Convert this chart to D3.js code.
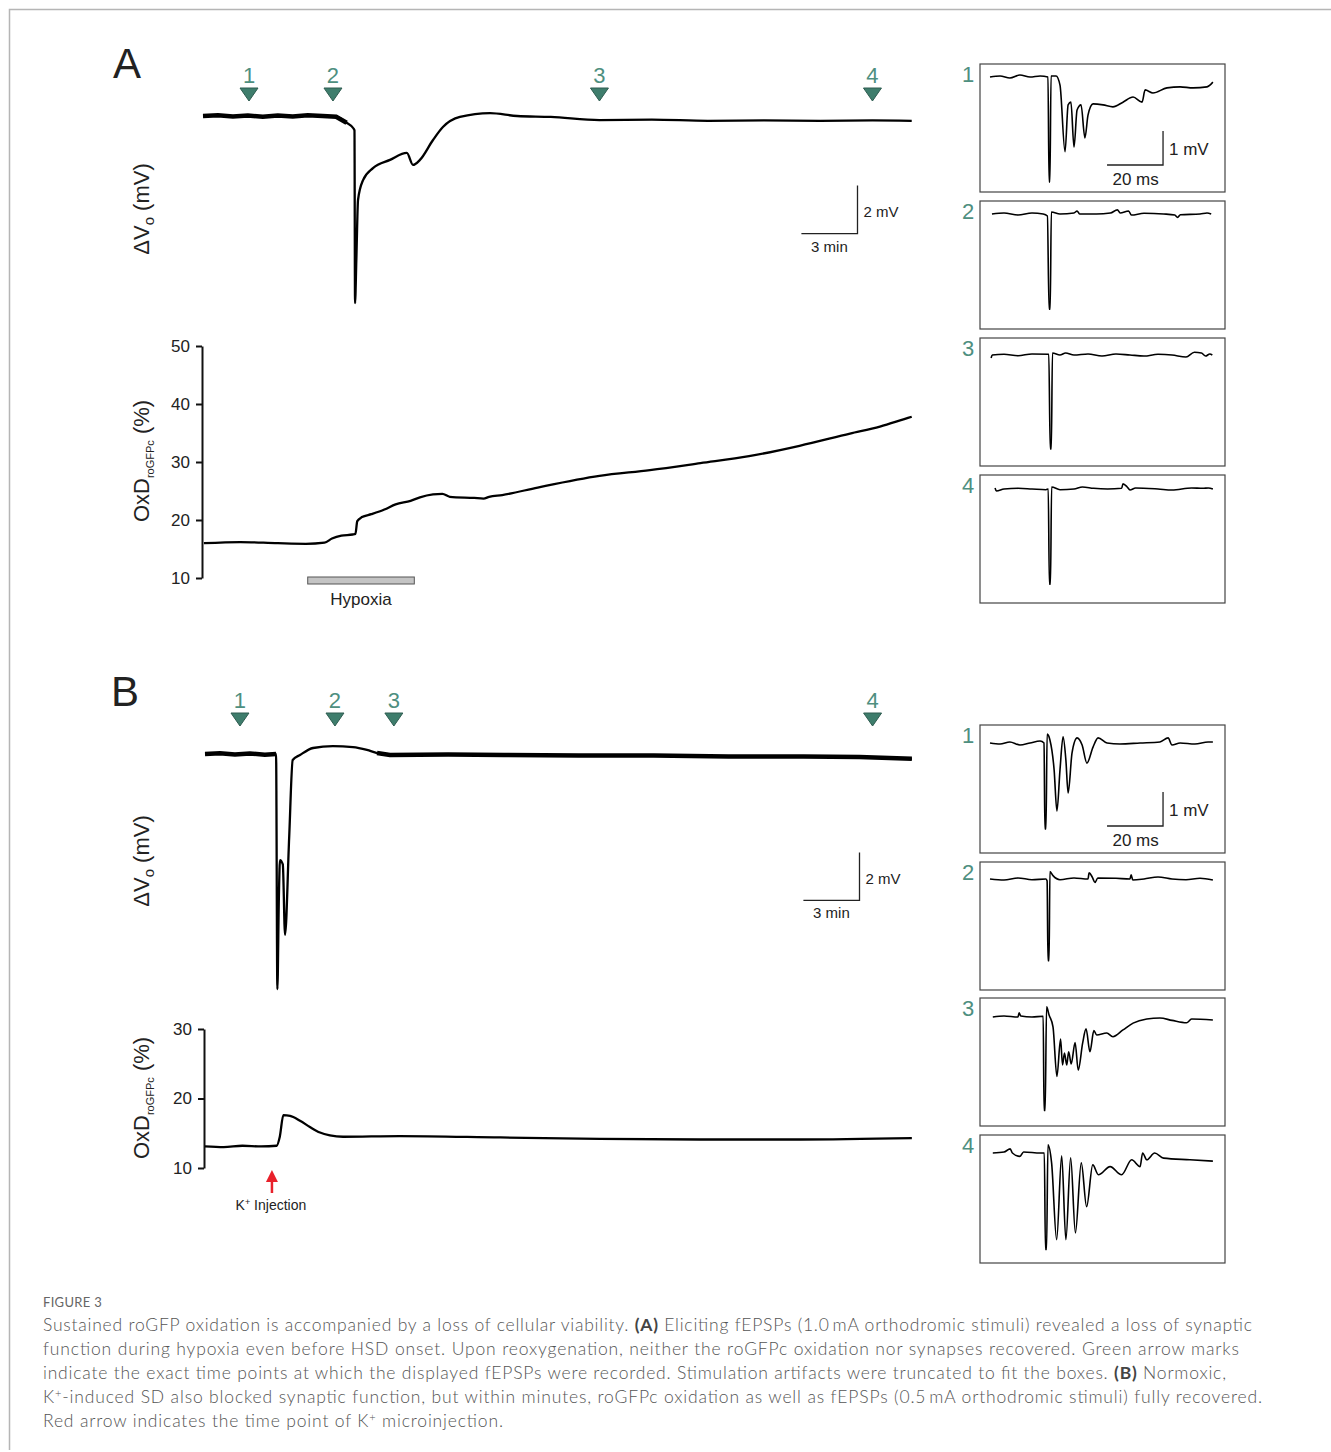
<!DOCTYPE html>
<html lang="en">
<head>
<meta charset="UTF-8">
<title>Figure 3</title>
<script src="https://cdn.jsdelivr.net/npm/d3@7"></script>
<style>
    body { margin: 0; background: #fff; }
    svg text { font-family: "Liberation Sans", Arial, sans-serif; fill: #222; }
    .trace { fill: none; stroke: #000; stroke-width: 2.3; stroke-linejoin: round; }
    .noise { fill: none; stroke: #000; stroke-width: 4.5; }
    .ins-trace { fill: none; stroke: #000; stroke-width: 1.6; stroke-linejoin: round; }
    .box { fill: none; stroke: #444; stroke-width: 1.2; }
    .marker { fill: #3e7d6c; stroke: #2e5c50; stroke-width: 1; }
    .mnum { fill: #4e8f80; font-size: 22px; text-anchor: middle; }
    .axis path, .axis line { stroke: #111; stroke-width: 2; }
    .axis text { font-size: 17px; fill: #222; }
    .bar { stroke: #222; stroke-width: 1.3; fill: none; }
    .cap { font-family: Lato, "Open Sans", sans-serif; font-size: 17.5px; font-weight: 300; fill: #555; }
</style>
</head>
<body>
<svg id="fig" width="1331" height="1452"></svg>
<script>
    // ---- data: main traces, time in min, extracellular potential in mV ----
    const traceA = [[0, 0], [0.8, 0.03], [1.6, -0.02], [2.4, 0.02], [3.2, -0.03], [4, 0.02], [4.8, -0.02],
        [5.6, 0.03], [6.4, 0], [7.12, -0.03], [7.68, -0.28], [8.04, -0.51], [8.1, -0.6], [8.13, -7.8],
        [8.2, -6.0], [8.29, -3.5], [8.56, -2.67], [9.09, -2.17], [10.0, -1.83], [10.9, -1.54], [11.23, -2.04],
        [11.6, -1.83], [12.3, -1.0], [12.83, -0.46], [13.74, -0.04], [15.35, 0.12], [16.8, 0], [18.6, -0.04],
        [21.2, -0.17], [24, -0.15], [27, -0.2], [30, -0.18], [33, -0.2], [35.8, -0.18], [37.9, -0.2]];
    const traceB = [[0, 0], [0.8, 0.03], [1.6, -0.02], [2.4, 0.02], [3.2, -0.03], [3.8, 0], [3.87, -9.8],
        [3.95, -6], [4.01, -4.42], [4.16, -4.6], [4.28, -7.54], [4.5, -3.5], [4.69, -0.25], [5.08, -0.04],
        [5.78, 0.25], [6.84, 0.33], [7.91, 0.29], [8.66, 0.17], [9.2, 0.04], [9.89, -0.04], [13, -0.02],
        [16, -0.04], [20, -0.06], [24, -0.06], [28, -0.1], [32, -0.1], [35, -0.12], [37.8, -0.2]];

    // roGFPc oxidation (%), time in min
    const oxdA = [[0.05, 16.0], [2, 16.2], [4, 16.0], [5.5, 15.9], [6.5, 16.1], [6.9, 16.8], [7.4, 17.3],
        [8.0, 17.5], [8.15, 17.6], [8.25, 19.8], [8.5, 20.5], [9.0, 21.0], [9.7, 21.8], [10.3, 22.7],
        [11.1, 23.3], [11.6, 23.9], [12.3, 24.4], [12.8, 24.5], [13.2, 24.0], [14.5, 23.8], [15.0, 23.7],
        [15.3, 24.0], [16.0, 24.3], [17.9, 25.6], [21.2, 27.6], [23.9, 28.6], [26.6, 29.8], [29.2, 31.0],
        [31.9, 32.8], [34.6, 34.9], [36.2, 36.1], [37.5, 37.4], [37.9, 37.8]];
    const oxdB = [[0, 13.1], [1, 13.0], [2, 13.2], [3, 13.1], [3.83, 13.2], [4.0, 14.5], [4.19, 17.6],
        [4.55, 17.5], [5.08, 16.8], [5.61, 15.9], [6.15, 15.1], [6.68, 14.7], [7.38, 14.5], [10.4, 14.6],
        [15.8, 14.4], [21.1, 14.2], [26.5, 14.1], [31.8, 14.1], [37.8, 14.3]];

    const oxdTicksA = [10, 20, 30, 40, 50];
    const oxdTicksB = [10, 20, 30];

    // time points (min) of the displayed fEPSPs
    const markersA = [2.46, 6.95, 21.2, 35.8];
    const markersB = [1.87, 6.95, 10.1, 35.7];
    const hypoxia = [5.6, 11.3];
    const kInjection = 3.58;

    // ---- data: fEPSP insets, time in ms, mV ----
    const insetA1 = [[0, 0], [3.6, 0.03], [7.1, -0.03], [10.7, 0.06], [14.3, 0], [17.9, 0.03], [20.7, 0],
        [21.1, -3.09], [21.4, -3.09], [21.8, 0.03], [23.6, 0.03], [25, -0.24], [26.8, -2.2], [27.9, -0.82],
        [28.9, -0.74], [30, -2.06], [31.1, -0.97], [32.5, -0.82], [33.9, -1.79], [35, -1.12], [36.8, -0.79],
        [40.4, -0.82], [43.9, -0.88], [47.5, -0.74], [51.1, -0.59], [54.3, -0.74], [55.4, -0.38],
        [58.2, -0.47], [63.2, -0.32], [67.9, -0.29], [72.5, -0.32], [77.5, -0.29], [79.6, -0.15]];
    const insetA2 = [[0.7, 0], [5, 0.03], [10, -0.03], [15, 0.03], [19, 0], [20.5, -0.06], [21.1, -2.8],
        [21.5, -2.8], [21.9, 0.06], [25, 0], [30, 0.03], [31.1, 0.09], [32, 0], [38, 0], [43, 0.03],
        [45.5, 0.12], [46.5, 0.03], [49.5, 0.09], [50.5, -0.03], [55, 0.02], [62, 0], [66, -0.03],
        [67, -0.1], [68, -0.02], [75, 0], [77.5, 0.03], [79, 0]];
    const insetA3 = [[0.4, -0.09], [0.8, 0], [5, 0.02], [10, -0.02], [15, 0.03], [21, 0.02], [21.5, -2.76],
        [21.9, -2.76], [22.3, 0.06], [25, 0], [27, 0.06], [30, 0], [35, 0.03], [40, -0.03], [45, 0.03],
        [50, 0], [55, -0.03], [60, 0.02], [65, 0], [70, -0.06], [73, 0.08], [75.5, 0.06], [77, -0.03],
        [78.5, 0.03], [79.4, 0]];
    const insetA4 = [[1.8, 0.03], [2.3, -0.06], [5, 0], [10, 0.02], [15, 0], [20, -0.02], [20.8, 0],
        [21.2, -2.8], [21.6, -2.8], [22, 0.06], [25, -0.02], [30, 0], [33, 0.06], [37, 0.02], [42, 0],
        [47, 0.02], [47.5, 0.15], [49, 0.06], [50, -0.03], [52, 0.03], [60, 0], [65, -0.03], [72, 0.03],
        [76, 0.02], [78, 0.03], [79.6, 0]];
    const insetB1 = [[0, 0], [3.6, -0.03], [7.1, 0.03], [10.7, -0.06], [14.3, 0], [17.9, 0.06], [19.3, 0],
        [19.6, -2.53], [20, -2.53], [20.4, 0.26], [21.4, 0.09], [22.9, -0.79], [23.9, -2.0], [25, -0.79],
        [26.1, 0.18], [27.1, -0.5], [27.9, -1.47], [29.3, -0.29], [31.1, 0.15], [32.9, -0.06], [34.6, -0.59],
        [36.8, -0.12], [38.6, 0.15], [41.8, 0], [46.4, -0.03], [53.6, 0], [60.7, 0.03], [63.6, 0.15],
        [65, -0.06], [67.9, 0], [73.2, -0.03], [77.9, 0.03], [79.6, 0.03]];
    const insetB2 = [[0, 0], [5, -0.03], [10, 0.03], [15, -0.02], [20, 0], [20.4, -0.06], [20.7, -2.4],
        [21.1, -2.4], [21.4, 0.22], [22.5, 0.1], [25, -0.02], [30, 0.03], [35, 0], [35.4, 0.18], [36.5, 0.06],
        [37.5, -0.1], [38.5, 0.03], [45, 0.02], [50, 0], [50.4, 0.12], [51, -0.03], [55, 0], [60, 0.06],
        [65, 0], [70, -0.02], [75, 0.02], [79.6, -0.03]];
    const insetB3 = [[1, 0], [5, 0.03], [10, 0], [10.4, 0.12], [11, 0.03], [15, 0], [19, 0.02],
        [19.3, -2.75], [19.7, -2.75], [20.2, 0.3], [21.1, 0.06], [22.5, -0.29], [23.9, -1.75], [25.2, -0.65],
        [25.9, -1.41], [26.6, -1.06], [27.4, -1.41], [28.1, -1.02], [29, -1.38], [30.4, -0.75], [31.5, -1.56],
        [33.1, -0.76], [34.3, -0.35], [35.7, -1.02], [37.1, -0.4], [38.1, -0.53], [41.7, -0.47],
        [43.9, -0.58], [47.5, -0.38], [51.1, -0.18], [56, -0.06], [60.7, -0.03], [65, -0.1], [70.2, -0.17],
        [72, -0.06], [79.6, -0.09]];
    const insetB4 = [[1, 0], [5, 0.03], [7.2, 0.12], [8, 0.0], [10.7, -0.1], [12, 0.03], [18, 0], [19.4, 0],
        [19.8, -2.84], [20.2, -2.84], [20.7, 0.24], [22, -0.29], [23.8, -2.55], [25.6, -0.08], [27.1, -2.55],
        [28.8, -0.14], [30.5, -2.35], [32.6, -0.29], [34.5, -1.58], [36.7, -0.35], [38.7, -0.64], [42.9, -0.4],
        [47, -0.64], [50.6, -0.2], [53.6, -0.4], [54.5, 0.0], [56, -0.2], [58.8, 0.0], [62, -0.15],
        [71.4, -0.2], [79.6, -0.24]];

    const captionLines = [
        [["Sustained roGFP oxidation is accompanied by a loss of cellular viability. ", ""], ["(A)", "b"],
            [" Eliciting fEPSPs (1.0\u2009mA orthodromic stimuli) revealed a loss of synaptic", ""]],
        [["function during hypoxia even before HSD onset. Upon reoxygenation, neither the roGFPc oxidation nor synapses recovered. Green arrow marks", ""]],
        [["indicate the exact time points at which the displayed fEPSPs were recorded. Stimulation artifacts were truncated to fit the boxes. ", ""],
            ["(B)", "b"], [" Normoxic,", ""]],
        [["K", ""], ["+", "sup"], ["-induced SD also blocked synaptic function, but within minutes, roGFPc oxidation as well as fEPSPs (0.5\u2009mA orthodromic stimuli) fully recovered.", ""]],
        [["Red arrow indicates the time point of K", ""], ["+", "sup"], [" microinjection.", ""]]
    ];
    const captionEnds = [1252, 1239, 1226, 1262, 503];

    // ---- drawing ----
    const svg = d3.select("#fig");
    const minPx = 18.7;   // px per minute
    const mvPx = 24;      // px per mV (main traces)
    const msPx = 2.8;     // px per ms (insets)
    const insMvPx = 34;   // px per mV (insets)

    svg.append("path")
        .attr("d", "M9.5,1450V9.5H1331")
        .attr("fill", "none")
        .attr("stroke", "#b5b5b5")
        .attr("stroke-width", 1.5);

    function yLabel(cx, cy, main, sub, tail) {
        let t = svg.append("text")
            .attr("transform", `translate(${cx},${cy}) rotate(-90)`)
            .attr("text-anchor", "middle")
            .style("font-size", "22px");
        t.append("tspan").text(main);
        t.append("tspan").attr("dy", 5).style("font-size", sub.length > 1 ? "11px" : "15px").text(sub);
        t.append("tspan").attr("dy", -5).text(tail);
    }

    function drawPanel(p) {
        let x = d3.scaleLinear().domain([0, 38]).range([p.x0, p.x0 + 38 * minPx]);
        let y = d3.scaleLinear().domain([0, -10]).range([p.vBase, p.vBase + 10 * mvPx]);

        svg.append("text")
            .attr("x", p.letterX).attr("y", p.letterY)
            .style("font-size", "42px")
            .text(p.letter);

        // arrow marks
        let m = svg.append("g");
        p.markers.forEach(function (t, i) {
            let cx = x(t);
            m.append("text").attr("class", "mnum")
                .attr("x", cx).attr("y", p.markTop - 5)
                .text(i + 1);
            m.append("path").attr("class", "marker")
                .attr("d", `M${cx - 9},${p.markTop}L${cx + 9},${p.markTop}L${cx},${p.markTop + 13}Z`);
        });

        let line = d3.line()
            .x(d => x(d[0]))
            .y(d => y(d[1]))
            .curve(d3.curveMonotoneX);
        p.noise.forEach(function (r) {
            svg.append("path").attr("class", "noise")
                .attr("d", d3.line().x(d => x(d[0])).y(d => y(d[1]))(p.trace.filter(d => d[0] >= r[0] && d[0] <= r[1])));
        });
        svg.append("path").attr("class", "trace").attr("d", line(p.trace));

        // scale bar 3 min / 2 mV
        let bx = x(35), by = y(p.barTop);
        svg.append("path").attr("class", "bar")
            .attr("d", `M${x(32)},${y(p.barTop - 2)}H${bx}V${by}`);
        svg.append("text").attr("x", bx + 6).attr("y", y(p.barTop - 1.3))
            .style("font-size", "15px").text("2 mV");
        svg.append("text").attr("x", x(33.5)).attr("y", y(p.barTop - 2) + 18)
            .attr("text-anchor", "middle").style("font-size", "15px").text("3 min");

        yLabel(149, p.vLabelY, "\u0394V", "o", " (mV)");

        // oxidation
        let yo = d3.scaleLinear().domain(p.oxDomain).range(p.oxRange);
        svg.append("g").attr("class", "axis")
            .attr("transform", `translate(${p.x0 - 1},0)`)
            .call(d3.axisLeft(yo).tickValues(p.oxTicks).tickSize(6).tickSizeOuter(0).tickPadding(6));
        svg.append("path").attr("class", "trace")
            .attr("d", d3.line().x(d => x(d[0])).y(d => yo(d[1])).curve(d3.curveMonotoneX)(p.oxd));
        yLabel(149, p.oxLabelY, "OxD", "roGFPc", " (%)");
        return {x: x, yo: yo};
    }

    let pa = drawPanel({
        letter: "A", letterX: 113, letterY: 78, x0: 203, vBase: 116, trace: traceA,
        markers: markersA, markTop: 88, noise: [[0, 7.7]], barTop: -2.9, vLabelY: 209,
        oxd: oxdA, oxDomain: [10, 50], oxRange: [578, 346], oxTicks: oxdTicksA, oxLabelY: 461
    });
    let pb = drawPanel({
        letter: "B", letterX: 111, letterY: 706, x0: 205, vBase: 754, trace: traceB,
        markers: markersB, markTop: 713, noise: [[0, 3.8], [9.2, 37.8]], barTop: -4.1, vLabelY: 861,
        oxd: oxdB, oxDomain: [10, 30], oxRange: [1168, 1029], oxTicks: oxdTicksB, oxLabelY: 1098
    });

    // hypoxia bar
    svg.append("rect")
        .attr("x", pa.x(hypoxia[0])).attr("y", 577)
        .attr("width", pa.x(hypoxia[1]) - pa.x(hypoxia[0])).attr("height", 7)
        .attr("fill", "#c4c4c4").attr("stroke", "#555").attr("stroke-width", 1);
    svg.append("text")
        .attr("x", pa.x((hypoxia[0] + hypoxia[1]) / 2)).attr("y", 605)
        .attr("text-anchor", "middle").style("font-size", "17px").text("Hypoxia");

    // K+ injection arrow
    let kx = pb.x(kInjection);
    svg.append("line").attr("x1", kx).attr("x2", kx).attr("y1", 1193).attr("y2", 1178)
        .attr("stroke", "#e8212b").attr("stroke-width", 2.5);
    svg.append("path").attr("d", `M${kx - 6},${1182}L${kx + 6},${1182}L${kx},${1170}Z`).attr("fill", "#e8212b");
    let kt = svg.append("text").attr("x", kx - 1).attr("y", 1210)
        .attr("text-anchor", "middle").style("font-size", "14px");
    kt.append("tspan").text("K");
    kt.append("tspan").attr("dy", -5).style("font-size", "9px").text("+");
    kt.append("tspan").attr("dy", 5).text(" Injection");

    // fEPSP insets
    function drawInset(top, base, data, n, withBar) {
        let g = svg.append("g");
        g.append("rect").attr("class", "box")
            .attr("x", 980).attr("y", top).attr("width", 245).attr("height", 128);
        g.append("text").attr("class", "mnum").attr("x", 968).attr("y", top + 18).text(n);
        let x = d3.scaleLinear().domain([0, 80]).range([990, 990 + 80 * msPx]);
        let y = d3.scaleLinear().domain([0, -3]).range([top + base, top + base + 3 * insMvPx]);
        g.append("path").attr("class", "ins-trace")
            .attr("d", d3.line().x(d => x(d[0])).y(d => y(d[1])).curve(d3.curveMonotoneX)(data));
        if (withBar) {
            let bTop = y.invert(top + 67);
            g.append("path").attr("class", "bar")
                .attr("d", `M${x(41.8)},${y(bTop - 1)}H${x(61.8)}V${y(bTop)}`);
            g.append("text").attr("x", x(61.8) + 6).attr("y", y(bTop - 0.7))
                .style("font-size", "17px").text("1 mV");
            g.append("text").attr("x", x(52)).attr("y", y(bTop - 1) + 20)
                .attr("text-anchor", "middle").style("font-size", "17px").text("20 ms");
        }
    }
    const insetsA = [insetA1, insetA2, insetA3, insetA4];
    const insetsB = [insetB1, insetB2, insetB3, insetB4];
    [64, 201, 338, 475].forEach((t, i) => drawInset(t, [13, 13, 17, 14][i], insetsA[i], i + 1, i === 0));
    [725, 862, 998, 1135].forEach((t, i) => drawInset(t, [18, 17, 19, 18][i], insetsB[i], i + 1, i === 0));

    // caption
    svg.append("text").attr("x", 43).attr("y", 1307)
        .attr("class", "cap").style("font-size", "13px").style("font-weight", 400).style("fill", "#666")
        .style("letter-spacing", "0.3px").text("FIGURE 3");
    captionLines.forEach(function (parts, i) {
        let t = svg.append("text").attr("class", "cap")
            .attr("x", 43).attr("y", 1331 + i * 24)
            .attr("textLength", captionEnds[i] - 43).attr("lengthAdjust", "spacing");
        parts.forEach(function (p) {
            let s = t.append("tspan").text(p[0]);
            if (p[1] === "b") s.style("font-weight", "bold").style("fill", "#444");
            if (p[1] === "sup") s.attr("dy", -6).style("font-size", "11px");
            else if (p[0] && t.node().dataset.sup) s.attr("dy", 6);
            t.node().dataset.sup = p[1] === "sup" ? "1" : "";
        });
    });
</script>
</body>
</html>
